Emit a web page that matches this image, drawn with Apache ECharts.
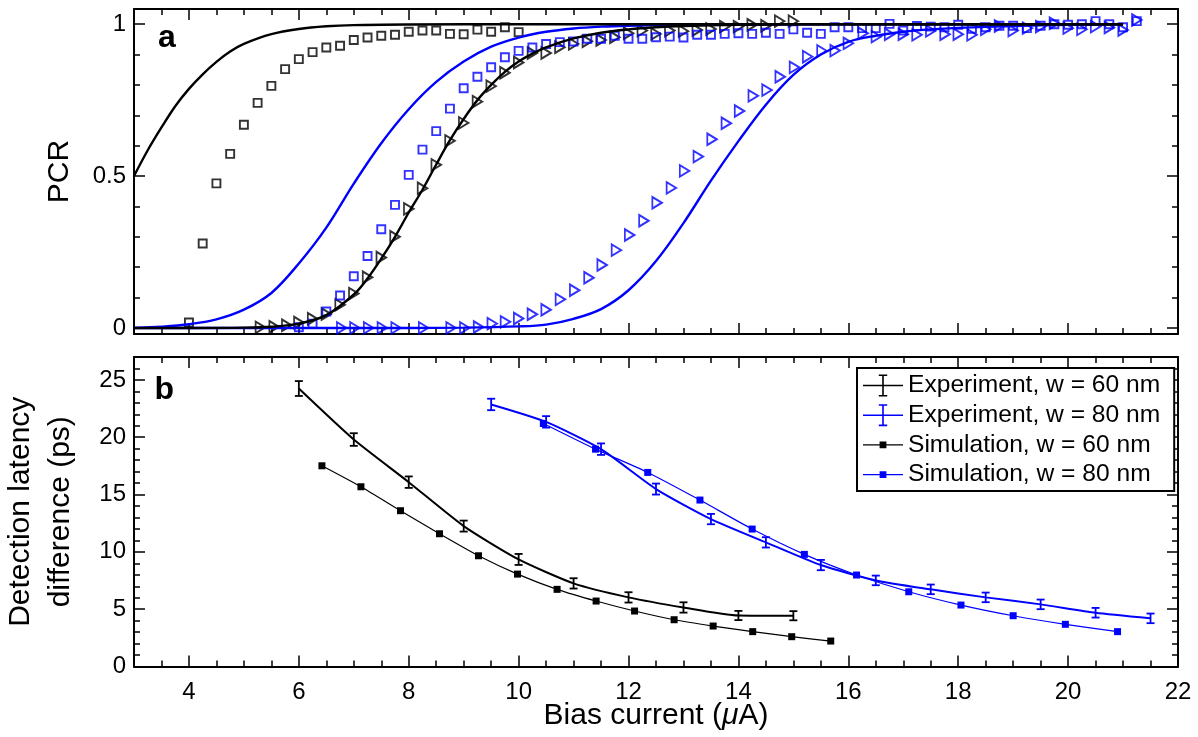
<!DOCTYPE html>
<html>
<head>
<meta charset="utf-8">
<title>PCR and detection latency vs bias current</title>
<script src="https://cdn.jsdelivr.net/npm/echarts@6/dist/echarts.min.js"></script>
<style>
  html, body { margin: 0; padding: 0; background: #fff; }
  #chart { width: 1198px; height: 737px; }
</style>
</head>
<body>
<div id="chart"></div>
<script>
// ---------- Panel a: photon count rate (normalised) vs bias current (uA) ----------
// measured points, w = 60 nm (black)
const pcrSquares60 = [
  [4.0,0.018],[4.25,0.278],[4.5,0.476],[4.75,0.573],[5.0,0.669],[5.25,0.741],[5.5,0.797],
  [5.75,0.852],[6.0,0.885],[6.25,0.908],[6.5,0.923],[6.75,0.929],[7.0,0.948],[7.25,0.956],
  [7.5,0.962],[7.75,0.965],[8.0,0.975],[8.25,0.979],[8.5,0.979],[8.75,0.968],[9.0,0.967],
  [9.25,0.982],[9.5,0.975],[9.75,0.99],[10.0,0.974]
];
const pcrTriangles60 = [
  [5.3,0.002],[5.55,0.004],[5.78,0.009],[6.0,0.018],[6.25,0.03],[6.5,0.046],[6.75,0.076],
  [7.0,0.113],[7.25,0.167],[7.5,0.232],[7.75,0.3],[8.0,0.392],[8.25,0.46],[8.5,0.537],
  [8.75,0.616],[9.0,0.675],[9.25,0.745],[9.5,0.796],[9.75,0.84],[10.0,0.874],[10.25,0.905],
  [10.5,0.905],[10.75,0.924],[11.0,0.935],[11.25,0.944],[11.5,0.948],[11.75,0.957],[12.0,0.97],
  [12.25,0.979],[12.5,0.968],[12.75,0.979],[13.0,0.977],[13.25,0.981],[13.5,0.984],[13.75,0.992],
  [14.0,0.992],[14.25,0.998],[14.5,0.995],[14.75,1.01],[15.0,1.01]
];
// measured points, w = 80 nm (blue)
const pcrSquares80 = [
  [6.0,0.002],[6.25,0.014],[6.5,0.054],[6.75,0.107],[7.0,0.17],[7.25,0.237],[7.5,0.325],
  [7.75,0.405],[8.0,0.504],[8.25,0.587],[8.5,0.648],[8.75,0.722],[9.0,0.789],[9.25,0.827],
  [9.5,0.858],[9.75,0.891],[10.0,0.912],[10.25,0.923],[10.5,0.935],[10.75,0.941],[11.0,0.943],
  [11.25,0.952],[11.5,0.952],[11.75,0.962],[12.0,0.952],[12.25,0.952],[12.5,0.957],[12.75,0.959],
  [13.0,0.956],[13.25,0.965],[13.5,0.965],[13.75,0.968],[14.0,0.97],[14.25,0.968],[14.5,0.972],
  [14.75,0.968],[15.0,0.983],[15.25,0.972],[15.5,0.968],[15.75,0.99],[16.0,0.99],[16.25,0.987],
  [16.5,0.987],[16.75,1.001],[17.0,0.979],[17.25,0.994],[17.5,0.992],[17.75,0.99],[18.0,0.998],
  [18.25,0.985],[18.5,0.99],[18.75,0.995],[19.0,0.995],[19.25,0.987],[19.5,0.995],[19.75,1.0],
  [20.0,0.998],[20.25,1.0],[20.5,1.01],[20.75,1.0],[21.0,0.99],[21.25,1.01]
];
const pcrTriangles80 = [
  [6.78,0.0],[7.02,0.0],[7.27,0.0],[7.52,0.0],[7.77,0.0],[8.27,0.0],[8.77,0.0],[9.02,0.0],
  [9.27,0.003],[9.52,0.014],[9.76,0.02],[10.0,0.031],[10.25,0.045],[10.5,0.06],[10.76,0.094],
  [11.02,0.124],[11.28,0.165],[11.52,0.207],[11.78,0.256],[12.02,0.306],[12.28,0.353],
  [12.52,0.412],[12.78,0.461],[13.02,0.517],[13.27,0.564],[13.52,0.621],[13.78,0.674],
  [14.02,0.714],[14.27,0.764],[14.52,0.783],[14.76,0.827],[15.02,0.858],[15.26,0.893],
  [15.52,0.912],[15.76,0.913],[16.0,0.937],[16.27,0.97],[16.51,0.959],[16.75,0.967],[17.0,0.967],
  [17.25,0.965],[17.5,0.978],[17.76,0.967],[18.0,0.967],[18.25,0.965],[18.5,0.983],[18.75,0.994],
  [19.0,0.979],[19.26,0.987],[19.5,0.992],[19.75,1.003],[20.0,0.987],[20.25,0.983],[20.5,0.992],
  [20.75,0.989],[21.0,0.981],[21.25,1.014]
];
// model curves
const pcrCurve60a = [
  [3,0.5],[3.25,0.585],[3.5,0.66],[3.75,0.73],[4,0.787],[4.25,0.835],[4.5,0.876],[4.75,0.91],
  [5,0.935],[5.5,0.967],[6,0.984],[6.5,0.993],[7,0.997],[8,0.999],[10,1],[14,1],[21,1]
];
const pcrCurve60b = [
  [3,0],[4,0],[5,0.001],[5.5,0.004],[6,0.014],[6.5,0.042],[7,0.11],[7.25,0.163],[7.5,0.228],
  [7.75,0.3],[8,0.38],[8.25,0.455],[8.5,0.538],[8.75,0.618],[9,0.688],[9.25,0.75],[9.5,0.8],
  [9.75,0.843],[10,0.877],[10.25,0.903],[10.5,0.924],[11,0.953],[11.5,0.972],[12,0.983],
  [12.5,0.99],[13,0.994],[14,0.998],[15,1],[21,1]
];
const pcrCurve80a = [
  [3,0],[3.5,0.004],[4,0.012],[4.5,0.028],[5,0.06],[5.5,0.115],[6,0.212],[6.5,0.33],[7,0.475],
  [7.5,0.608],[8,0.72],[8.5,0.81],[9,0.877],[9.5,0.926],[10,0.956],[10.5,0.975],[11,0.986],
  [11.5,0.992],[12,0.995],[13,0.998],[14,0.999],[16,1],[21,1]
];
const pcrCurve80b = [
  [3,0],[8,0],[9,0.001],[10,0.005],[10.5,0.011],[11,0.03],[11.5,0.062],[12,0.124],[12.5,0.22],
  [13,0.345],[13.5,0.485],[14,0.615],[14.5,0.735],[15,0.833],[15.5,0.9],[16,0.942],[16.5,0.962],
  [17,0.975],[17.5,0.983],[18,0.988],[19,0.994],[20,0.998],[21,1]
];

// ---------- Panel b: detection latency difference (ps) vs bias current (uA) ----------
// [bias, latency, error]
const latencyExp60 = [
  [6,24.25,0.65],[7,19.8,0.55],[8,16.08,0.5],[9,12.25,0.48],[10,9.34,0.48],[11,7.25,0.45],
  [12,6.03,0.45],[13,5.15,0.45],[14,4.45,0.4],[15,4.43,0.4]
];
const latencyExp80 = [
  [9.5,22.86,0.5],[10.5,21.34,0.5],[11.5,18.96,0.5],[12.5,15.48,0.48],[13.5,12.86,0.45],
  [14.5,10.83,0.45],[15.5,8.85,0.45],[16.5,7.51,0.42],[17.5,6.73,0.42],[18.5,6.03,0.42],
  [19.5,5.42,0.42],[20.5,4.69,0.42],[21.5,4.2,0.42]
];
// [bias, latency]
const latencySim60 = [
  [6.42,17.51],[7.13,15.68],[7.85,13.59],[8.56,11.58],[9.27,9.66],[9.98,8.06],[10.7,6.73],
  [11.41,5.71],[12.11,4.84],[12.83,4.08],[13.54,3.53],[14.26,3.04],[14.97,2.6],[15.68,2.22]
];
const latencySim80 = [
  [10.45,21.2],[11.4,18.96],[12.35,16.93],[13.3,14.52],[14.25,11.99],[15.2,9.78],[16.15,7.98],
  [17.1,6.52],[18.05,5.36],[19.0,4.43],[19.95,3.68],[20.9,3.04]
];

const legendNames = [
  'Experiment, w = 60 nm', 'Experiment, w = 80 nm',
  'Simulation, w = 60 nm', 'Simulation, w = 80 nm'
];

// ---------- styling ----------
const FONT = "'Liberation Sans', Arial, Helvetica, sans-serif";
const BLACK = '#000000';
const BLUE = '#0000ff';
const ICON_ERR = 'path://M0,11.2H40V12.8H0Z M19.2,1H20.8V23H19.2Z M15.8,1H24.2V2.6H15.8Z M15.8,21.4H24.2V23H15.8Z';
const ICON_SIM = 'path://M0,11.4H40V12.6H0Z M16.6,8.6H23.4V15.4H16.6Z';

function isMultiple(v, step) {
  const r = v / step;
  return Math.abs(r - Math.round(r)) < 1e-6;
}

function baseAxis(extra) {
  return Object.assign({
    type: 'value',
    axisLine: { show: true, onZero: false, lineStyle: { color: BLACK, width: 2 } },
    axisTick: { show: true, inside: true, length: 11, lineStyle: { color: BLACK, width: 1.5 } },
    minorTick: { show: true, length: 6, lineStyle: { color: BLACK, width: 1.5 } },
    splitLine: { show: false },
    minorSplitLine: { show: false },
    axisLabel: { show: false },
    axisPointer: { show: false }
  }, extra);
}

function xAxisFor(gridIndex, position, withLabels) {
  const ax = baseAxis({
    gridIndex, position, min: 3, max: 22, splitNumber: 10
  });
  ax.minorTick.splitNumber = 4;
  if (withLabels) {
    ax.axisLabel = {
      show: true, margin: 14, color: BLACK, fontFamily: FONT, fontSize: 24,
      formatter: v => (isMultiple(v, 2) ? String(v) : '')
    };
    ax.name = 'Bias current ({mu|\u03bc}A)';
    ax.nameLocation = 'middle';
    ax.nameGap = 34;
    ax.nameMoveOverlap = false;
    ax.nameTextStyle = {
      fontFamily: FONT, fontSize: 30, color: BLACK,
      rich: { mu: { fontFamily: FONT, fontSize: 30, fontStyle: 'italic', color: BLACK } }
    };
  }
  return ax;
}

function yAxisFor(gridIndex, position, min, max, splitNumber, major, labelCfg) {
  const ax = baseAxis({ gridIndex, position, min, max, splitNumber });
  ax.minorTick.splitNumber = 5;
  if (labelCfg) {
    ax.axisLabel = {
      show: true, margin: 8, color: BLACK, fontFamily: FONT, fontSize: 24,
      formatter: v => (isMultiple(v, major) ? String(v) : '')
    };
    ax.name = labelCfg.name;
    ax.nameLocation = 'middle';
    ax.nameGap = labelCfg.gap;
    ax.nameMoveOverlap = false;
    ax.nameTextStyle = Object.assign({ fontFamily: FONT, fontSize: 30, color: BLACK }, labelCfg.style || {});
  }
  return ax;
}

function markerSeries(data, color, shape) {
  const tri = shape === 'triangle';
  return {
    type: 'scatter', xAxisIndex: 0, yAxisIndex: 0, data,
    symbol: tri ? 'triangle' : 'rect',
    symbolRotate: tri ? -90 : 0,
    symbolSize: tri ? [11.5, 9.5] : 8,
    itemStyle: { color: 'rgba(0,0,0,0)', borderColor: color, borderWidth: 1.9 },
    silent: true, z: 2
  };
}

function curveSeries(data, color) {
  return {
    type: 'line', xAxisIndex: 0, yAxisIndex: 0, data,
    showSymbol: false, symbol: 'none', smooth: 0.35,
    lineStyle: { color, width: 2.4 }, itemStyle: { color },
    silent: true, z: 3
  };
}

function expLine(name, data, color) {
  return {
    name, type: 'line', xAxisIndex: 2, yAxisIndex: 2,
    data: data.map(d => [d[0], d[1]]),
    symbol: 'none', smooth: 0.2,
    color, lineStyle: { color, width: 2 }, itemStyle: { color },
    silent: true, z: 3
  };
}

function errorBars(name, data, color) {
  return {
    name, type: 'custom', xAxisIndex: 2, yAxisIndex: 2, data,
    encode: { x: 0, y: 1 },
    silent: true, z: 4,
    renderItem: (params, api) => {
      const x = api.value(0), y = api.value(1), e = api.value(2);
      const hi = api.coord([x, y + e]);
      const lo = api.coord([x, y - e]);
      const w = 4;
      const st = { stroke: color, lineWidth: 1.8 };
      return {
        type: 'group',
        children: [
          { type: 'line', shape: { x1: hi[0], y1: hi[1], x2: lo[0], y2: lo[1] }, style: st },
          { type: 'line', shape: { x1: hi[0] - w, y1: hi[1], x2: hi[0] + w, y2: hi[1] }, style: st },
          { type: 'line', shape: { x1: lo[0] - w, y1: lo[1], x2: lo[0] + w, y2: lo[1] }, style: st }
        ]
      };
    }
  };
}

function simLine(name, data, color) {
  return {
    name, type: 'line', xAxisIndex: 2, yAxisIndex: 2, data,
    symbol: 'rect', symbolSize: 7, showSymbol: true, smooth: 0.2,
    color, lineStyle: { color, width: 1.2 }, itemStyle: { color, borderWidth: 0 },
    silent: true, z: 3
  };
}

const chart = echarts.init(document.getElementById('chart'), null, { renderer: 'canvas' });

chart.setOption({
  animation: false,
  backgroundColor: '#ffffff',
  textStyle: { fontFamily: FONT },
  grid: [
    { left: 134, right: 20, top: 9, height: 325, outerBoundsMode: 'none', containLabel: false },
    { left: 134, right: 20, top: 357, height: 309.5, outerBoundsMode: 'none', containLabel: false }
  ],
  xAxis: [
    xAxisFor(0, 'bottom', false),
    xAxisFor(0, 'top', false),
    xAxisFor(1, 'bottom', true),
    xAxisFor(1, 'top', false)
  ],
  yAxis: [
    yAxisFor(0, 'left', -0.02, 1.05, 2, 0.5, { name: 'PCR', gap: 59 }),
    yAxisFor(0, 'right', -0.02, 1.05, 2, 0.5, null),
    yAxisFor(1, 'left', 0, 27, 5, 5, {
      name: 'Detection latency\ndifference (ps)', gap: 53, style: { lineHeight: 40 }
    }),
    yAxisFor(1, 'right', 0, 27, 5, 5, null)
  ],
  legend: {
    show: true, orient: 'vertical', left: 857, top: 368,
    padding: [5, 14, 4, 6], itemGap: 4.7, itemWidth: 40, itemHeight: 24,
    borderColor: BLACK, borderWidth: 2, backgroundColor: '#ffffff',
    selectedMode: false,
    itemStyle: { borderWidth: 0 },
    textStyle: { fontFamily: FONT, fontSize: 24.6, color: BLACK },
    data: [
      { name: legendNames[0], icon: ICON_ERR },
      { name: legendNames[1], icon: ICON_ERR },
      { name: legendNames[2], icon: ICON_SIM },
      { name: legendNames[3], icon: ICON_SIM }
    ]
  },
  graphic: [
    { type: 'text', left: 158, top: 22, silent: true,
      style: { text: 'a', fontFamily: FONT, fontWeight: 'bold', fontSize: 32, fill: BLACK } },
    { type: 'text', left: 154.5, top: 374.5, silent: true,
      style: { text: 'b', fontFamily: FONT, fontWeight: 'bold', fontSize: 32, fill: BLACK } }
  ],
  series: [
    markerSeries(pcrSquares60, BLACK, 'rect'),
    markerSeries(pcrTriangles60, BLACK, 'triangle'),
    markerSeries(pcrSquares80, BLUE, 'rect'),
    markerSeries(pcrTriangles80, BLUE, 'triangle'),
    curveSeries(pcrCurve80a, BLUE),
    curveSeries(pcrCurve80b, BLUE),
    curveSeries(pcrCurve60a, BLACK),
    curveSeries(pcrCurve60b, BLACK),

    expLine(legendNames[0], latencyExp60, BLACK),
    errorBars('Error bars, w = 60 nm', latencyExp60, BLACK),
    expLine(legendNames[1], latencyExp80, BLUE),
    errorBars('Error bars, w = 80 nm', latencyExp80, BLUE),
    simLine(legendNames[2], latencySim60, BLACK),
    simLine(legendNames[3], latencySim80, BLUE)
  ]
});
</script>
</body>
</html>
